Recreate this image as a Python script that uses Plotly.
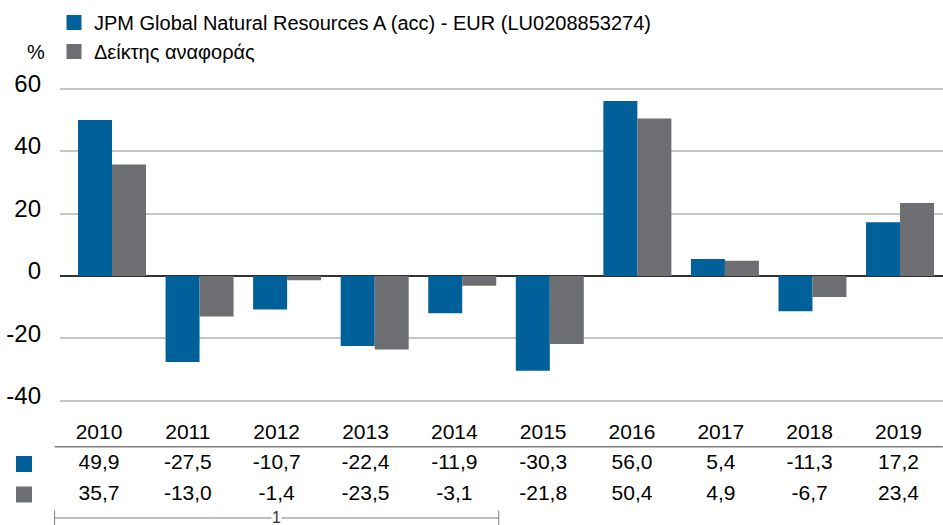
import plotly.graph_objects as go

years = ["2010", "2011", "2012", "2013", "2014", "2015", "2016", "2017", "2018", "2019"]
fund = [49.9, -27.5, -10.7, -22.4, -11.9, -30.3, 56.0, 5.4, -11.3, 17.2]
bench = [35.7, -13.0, -1.4, -23.5, -3.1, -21.8, 50.4, 4.9, -6.7, 23.4]
fund_name = "JPM Global Natural Resources A (acc) - EUR (LU0208853274)"
bench_name = "Δείκτης αναφοράς"
y_ticks = [-40, -20, 0, 20, 40, 60]
bracket_label = "1"

BLUE = "#00609A"
GREY = "#6D6E71"
FONT = "Arial, Liberation Sans, sans-serif"
W, H = 943, 525


def fmt(v):
    return f"{v:.1f}".replace(".", ",")


def py(pix):
    return 1 - pix / H


fig = go.Figure()
fig.add_trace(go.Bar(x=years, y=fund, name=fund_name, marker_color=BLUE,
                     marker_line_width=0, xaxis="x", yaxis="y", showlegend=False))
fig.add_trace(go.Bar(x=years, y=bench, name=bench_name, marker_color=GREY,
                     marker_line_width=0, xaxis="x", yaxis="y", showlegend=False))
# legend keys (larger square swatches than the default bar icon)
for name, col in [(fund_name, BLUE), (bench_name, GREY)]:
    fig.add_trace(go.Scatter(x=[None], y=[None], mode="markers", name=name,
                             marker=dict(symbol="square", size=15, color=col, line_width=0),
                             xaxis="x", yaxis="y", showlegend=True, hoverinfo="skip"))

# table below the chart: row 0 = years, row 1 = fund, row 2 = benchmark
for row, labels in [(0, years), (1, [fmt(v) for v in fund]), (2, [fmt(v) for v in bench])]:
    fig.add_trace(go.Scatter(x=years, y=[row] * len(years), mode="text", text=labels,
                             textposition="middle center",
                             textfont=dict(family=FONT, size=21, color="#000"),
                             xaxis="x2", yaxis="y2", showlegend=False, hoverinfo="skip"))

# colour keys in the table (placed left of the first column)
KEY_X = 24  # pixel
for row, col in [(1, BLUE), (2, GREY)]:
    fig.add_shape(type="rect", xref="paper", yref="y2",
                  x0=(KEY_X - 8) / W, x1=(KEY_X + 8) / W,
                  y0=row - 8 / 30.5, y1=row + 8 / 30.5,
                  fillcolor=col, line_width=0)

# horizontal rule under the year row
fig.add_shape(type="line", xref="x2", yref="y2", x0=-0.5, x1=9.5, y0=0.433, y1=0.433,
              line=dict(color="#7f7f7f", width=1.5))

# bracket under first five columns
BR_Y = 2.77
fig.add_shape(type="line", xref="x2", yref="y2", x0=-0.5, x1=4.5, y0=BR_Y, y1=BR_Y,
              line=dict(color="#7f7f7f", width=1))
for xx in (-0.5, 4.5):
    fig.add_shape(type="line", xref="x2", yref="y2", x0=xx, x1=xx, y0=2.52, y1=3.0,
                  line=dict(color="#7f7f7f", width=1))
fig.add_annotation(xref="x2", yref="y2", x=2, y=BR_Y, text=bracket_label, showarrow=False,
                   font=dict(family=FONT, size=16, color="#333"), bgcolor="white",
                   borderpad=0)

# % label
fig.add_annotation(xref="paper", yref="paper", x=36 / W, y=py(52), text="%", showarrow=False,
                   font=dict(family=FONT, size=20, color="#000"), xanchor="center", yanchor="middle")

# axis geometry
px_per_unit_x = 87.56
x_c0 = 112
x_lo = (60 - x_c0) / px_per_unit_x
x_hi = (W - x_c0) / px_per_unit_x

t_col0, t_step = 99, 88.83
x2_lo = (0 - t_col0) / t_step
x2_hi = (W - t_col0) / t_step

row0, row_step = 433.5, 30.5
y2_top = (400 - row0) / row_step
y2_bot = (H - row0) / row_step

hidden = dict(showticklabels=False, showgrid=False, zeroline=False, showline=False,
              ticks="", automargin=False)

fig.update_layout(
    template="none",
    width=W, height=H,
    margin=dict(l=0, r=0, t=0, b=0, autoexpand=False),
    paper_bgcolor="white", plot_bgcolor="rgba(0,0,0,0)",
    barmode="group", bargap=0.2234, bargroupgap=0,
    font=dict(family=FONT, color="#000"),
    showlegend=True,
    legend=dict(x=54 / W, y=py(3), xanchor="left", yanchor="top",
                font=dict(family=FONT, size=20, color="#000"),
                bgcolor="rgba(0,0,0,0)", traceorder="normal", itemclick=False,
                borderwidth=0),
    xaxis=dict(domain=[60 / W, 1], type="category", range=[x_lo, x_hi], **hidden),
    yaxis=dict(domain=[py(404.1), py(85.4)], range=[-41, 61],
               tickvals=y_ticks, ticktext=[str(v) for v in y_ticks],
               showgrid=True, gridcolor="#c6c6c6", gridwidth=2,
               zeroline=True, zerolinecolor="#333333", zerolinewidth=1.5,
               showline=False, ticks="", ticklabelstandoff=18, ticklabelshift=-5,
               automargin=False,
               tickfont=dict(family=FONT, size=24, color="#000")),
    xaxis2=dict(domain=[0, 1], type="category", range=[x2_lo, x2_hi], anchor="y2", **hidden),
    yaxis2=dict(domain=[0, py(400)], range=[y2_bot, y2_top], anchor="x2", **hidden),
    hovermode=False,
)

fig.write_html("out.html")
